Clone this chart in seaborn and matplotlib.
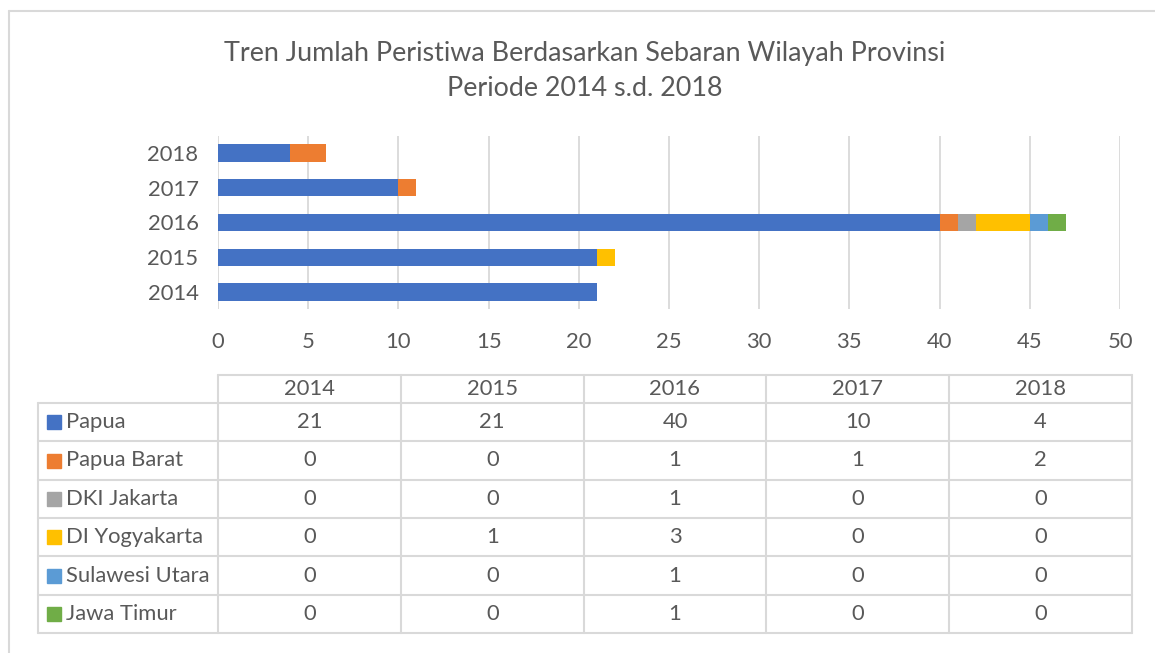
import matplotlib
matplotlib.use('Agg')
import matplotlib.pyplot as plt
import seaborn as sns
import pandas as pd
import numpy as np

years = ['2014', '2015', '2016', '2017', '2018']
papua = [21, 21, 40, 10, 4]
papua_barat = [0, 0, 1, 1, 2]
dki_jakarta = [0, 0, 1, 0, 0]
di_yogyakarta = [0, 1, 3, 0, 0]
sulawesi_utara = [0, 0, 1, 0, 0]
jawa_timur = [0, 0, 1, 0, 0]

provinces = ['Papua', 'Papua Barat', 'DKI Jakarta', 'DI Yogyakarta',
             'Sulawesi Utara', 'Jawa Timur']
colors = ['#4472C4', '#ED7D31', '#A5A5A5', '#FFC000', '#5B9BD5', '#70AD47']

TEXT = '#595959'
GRID = '#d9d9d9'
W, H = 1155, 653
FS = 15.8

sns.set_theme(style="white")
plt.rcParams['font.family'] = ['Lato', 'DejaVu Sans']

df = pd.DataFrame({'year': years})
series = [papua, papua_barat, dki_jakarta, di_yogyakarta,
          sulawesi_utara, jawa_timur]
cum = np.cumsum(np.array(series), axis=0)

fig = plt.figure(figsize=(W / 100, H / 100), dpi=100)
fig.patch.set_facecolor('white')

# bar plot area
x0, x1 = 218, 1120
y0, y1 = 135.6, 309.4
ax = fig.add_axes([x0 / W, 1 - y1 / H, (x1 - x0) / W, (y1 - y0) / H])
order = years[::-1]  # 2018 on top
# stacked bars: draw running totals from the widest down
for i in range(len(series) - 1, -1, -1):
    df['v'] = cum[i]
    sns.barplot(data=df, x='v', y='year', order=order, orient='h',
                color=colors[i], saturation=1, width=0.5,
                linewidth=0, ax=ax)
ax.set_xlim(0, 50)
ax.set_ylim(4.5, -0.5)
ax.set_xticks(range(0, 51, 5))
ax.grid(axis='x', color=GRID, linewidth=1.3)
ax.set_axisbelow(True)
for s in ax.spines.values():
    s.set_visible(False)
ax.set_xlabel('')
ax.set_ylabel('')
ax.tick_params(axis='x', length=0, pad=16, labelsize=FS, colors=TEXT)
ax.tick_params(axis='y', length=0, pad=14, labelsize=FS, colors=TEXT)

# overlay for title, data table and frame (pixel coordinates)
ov = fig.add_axes([0, 0, 1, 1], zorder=-1)
ov.set_xlim(0, W)
ov.set_ylim(H, 0)
ov.axis('off')

ov.plot([9, W], [11, 11], color=GRID, lw=1.5)
ov.plot([9, 9], [11, H], color=GRID, lw=1.5)

ov.text(585, 53, 'Tren Jumlah Peristiwa Berdasarkan Sebaran Wilayah Provinsi',
        ha='center', va='center', fontsize=19.4, color=TEXT)
ov.text(585, 89, 'Periode 2014 s.d. 2018',
        ha='center', va='center', fontsize=19.4, color=TEXT)

# data table
lab_l = 38
col_l = 218
col_w = (1132 - 218) / len(years)
head_t, head_b = 375, 403
row_h = (633 - 403) / len(provinces)
tab_r = col_l + col_w * len(years)
tab_b = head_b + row_h * len(provinces)

ov.plot([col_l, tab_r], [head_t, head_t], color=GRID, lw=1.5)
for j in range(len(years) + 1):
    xx = col_l + j * col_w
    ov.plot([xx, xx], [head_t, tab_b], color=GRID, lw=1.5)
for j, yr in enumerate(years):
    ov.text(col_l + (j + 0.5) * col_w, (head_t + head_b) / 2, yr,
            ha='center', va='center', fontsize=FS, color=TEXT)
ov.plot([lab_l, lab_l], [head_b, tab_b], color=GRID, lw=1.5)
for i in range(len(provinces) + 1):
    yy = head_b + i * row_h
    ov.plot([lab_l, tab_r], [yy, yy], color=GRID, lw=1.5)

for i, (name, vals) in enumerate(zip(provinces, series)):
    cy = head_b + (i + 0.5) * row_h
    ov.add_patch(plt.Rectangle((47, cy - 7), 14, 14, color=colors[i]))
    ov.text(66, cy, name, ha='left', va='center', fontsize=FS, color=TEXT)
    for j, v in enumerate(vals):
        ov.text(col_l + (j + 0.5) * col_w, cy, str(v),
                ha='center', va='center', fontsize=FS, color=TEXT)

fig.savefig('out.png', dpi=100, facecolor='white')
